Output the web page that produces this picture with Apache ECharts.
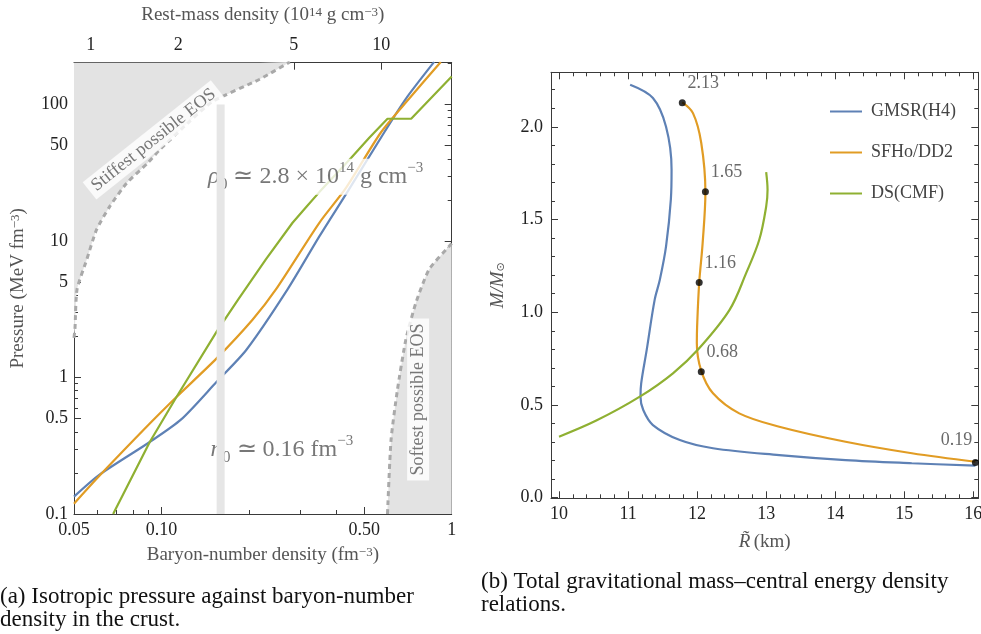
<!DOCTYPE html>
<html>
<head>
<meta charset="utf-8">
<script src="https://cdn.jsdelivr.net/npm/echarts@6/dist/echarts.min.js"></script>
<style>
html, body { margin: 0; padding: 0; background: #fff; }
#chart { width: 981px; height: 634px; }
</style>
</head>
<body>
<div id="chart"></div>
<script>
// (a) crust: baryon-number density n (fm^-3) against pressure P (MeV fm^-3)
var gmsrN = [0.05, 0.0614, 0.0912, 0.117, 0.155, 0.196, 0.272, 0.35, 0.439, 0.586, 0.695, 0.87];
var gmsrP = [0.134, 0.195, 0.337, 0.493, 0.93, 1.59, 4.42, 10.8, 23.2, 62.6, 110, 205];
var sfhoN = [0.05, 0.0614, 0.0912, 0.1127, 0.155, 0.206, 0.248, 0.35, 0.433, 0.571, 0.713, 0.917];
var sfhoP = [0.119, 0.192, 0.46, 0.72, 1.38, 2.65, 4.42, 13.6, 24.6, 62.6, 110, 205];
var dsN = [0.0682, 0.0912, 0.1127, 0.155, 0.1835, 0.229, 0.283, 0.316, 0.35, 0.45, 0.52, 0.601, 0.725, 1.0];
var dsP = [0.1, 0.337, 0.72, 2.17, 3.7, 7.33, 13.6, 17.8, 22.8, 40.5, 57, 78.6, 78.6, 160];

// causal / softest bounds
var stiffN = [0.05, 0.0504, 0.0512, 0.0553, 0.0598, 0.0665, 0.0759, 0.09, 0.0988, 0.125, 0.15, 0.218, 0.277];
var stiffP = [1.95, 2.3, 4.4, 7.29, 12.1, 18.0, 26.5, 37.5, 46.7, 75, 105, 153, 205];
var softN = [0.601, 0.618, 0.65, 0.695, 0.753, 0.836, 0.98, 1.0];
var softP = [0.1, 0.347, 0.808, 1.89, 3.53, 6.19, 9.16, 9.6];

// saturation density band
var n0 = 0.16;
var n0P = [0.1, 100];
var rhoPerN = 17.5; // 10^14 g cm^-3 per fm^-3

var nTicks = [0.05, 0.1, 0.5, 1];
var nTickLabels = ['0.05', '0.10', '0.50', '1'];
var nMinor = [0.06, 0.07, 0.08, 0.09, 0.2, 0.3, 0.4, 0.6, 0.7, 0.8, 0.9];
var rhoTicks = [1, 2, 5, 10];
var pTicks = [0.1, 0.5, 1, 5, 10, 50, 100];
var pTickLabels = ['0.1', '0.5', '1', '5', '10', '50', '100'];
var pMinor = [0.2, 0.3, 0.4, 0.6, 0.7, 0.8, 0.9, 2, 3, 4, 6, 7, 8, 9, 20, 30, 40, 60, 70, 80, 90, 200];

// (b) mass-radius
var gmsrR = [11.03, 11.36, 11.55, 11.63, 11.62, 11.55, 11.46, 11.385, 11.27, 11.19, 11.18, 11.22, 11.36, 11.75, 12.23, 13.19, 14.15, 15.11, 16.03];
var gmsrM = [2.227, 2.155, 2.0, 1.77, 1.61, 1.355, 1.175, 1.067, 0.797, 0.617, 0.545, 0.473, 0.392, 0.311, 0.267, 0.230, 0.203, 0.186, 0.173];
var sfhoR = [11.785, 11.94, 12.06, 12.12, 12.08, 12.03, 12.0, 11.996, 12.06, 12.23, 12.61, 13.19, 14.15, 15.11, 16.03];
var sfhoM = [2.132, 2.074, 1.913, 1.648, 1.373, 1.159, 0.923, 0.833, 0.684, 0.563, 0.455, 0.383, 0.302, 0.240, 0.194];
var dsR = [10.0, 10.54, 11.17, 11.65, 12.03, 12.47, 12.71, 12.90, 13.0, 13.02, 13.0];
var dsM = [0.329, 0.416, 0.545, 0.671, 0.806, 1.013, 1.211, 1.391, 1.570, 1.661, 1.756];
var markR = [11.785, 12.12, 12.03, 12.06, 16.03];
var markM = [2.13, 1.65, 1.16, 0.68, 0.19];

var rTicks = [10, 11, 12, 13, 14, 15, 16];
var mTicks = [0, 0.5, 1.0, 1.5, 2.0];
var rMinor = [];
for (var r = 10; r < 16; r++) for (var k = 1; k < 5; k++) rMinor.push(+(r + k * 0.2).toFixed(1));
var mMinor = [];
for (var m = 1; m <= 22; m++) if (m % 5) mMinor.push(m / 10);

var blue = '#5e81b5', orange = '#e19c24', green = '#8fb032';
var font = 'Liberation Serif';
var frame = '#3a3a3a';
var lg = Math.log10;

function logPairs(xs, ys) {
    return xs.map(function (x, i) { return [lg(x), lg(ys[i])]; });
}
function pairs(xs, ys) {
    return xs.map(function (x, i) { return [x, ys[i]]; });
}
function pick(ticks, labels) {
    return function (v) {
        for (var i = 0; i < ticks.length; i++) if (Math.abs(lg(ticks[i]) - v) < 1e-6) return labels[i];
        return '';
    };
}

function axis(grid, pos, min, max, ticks, len, line, label) {
    return {
        type: 'value', gridIndex: grid, position: pos, min: min, max: max,
        axisLine: { show: line, onZero: false, lineStyle: { color: frame, width: 1 } },
        axisTick: { show: true, inside: true, length: len, customValues: ticks, lineStyle: { color: frame, width: 1 } },
        axisLabel: label ? Object.assign({ show: true, customValues: ticks, fontFamily: font, fontSize: 18, color: '#222' }, label) : { show: false },
        splitLine: { show: false }
    };
}

var nameRich = {
    t: { fontFamily: font, fontSize: 19, color: '#555' },
    i: { fontFamily: font, fontSize: 19, fontStyle: 'italic', color: '#555' },
    sp: { fontFamily: font, fontSize: 13, color: '#555', verticalAlign: 'top' },
    s: { fontFamily: 'DejaVu Sans', fontSize: 11, color: '#555', verticalAlign: 'bottom' }
};

var xMin = lg(nTicks[0]), xMax = 0, yMin = -1, yMax = 2.306;

var xAxes = [
    Object.assign(axis(0, 'bottom', xMin, xMax, nTicks.map(lg), 7, true,
        { formatter: pick(nTicks, nTickLabels), margin: 7 }), {
        name: '{t|Baryon-number density (fm}{sp|−3}{t|)}', nameLocation: 'middle', nameGap: 32,
        nameTextStyle: { rich: nameRich }
    }),
    axis(0, 'bottom', xMin, xMax, nMinor.map(lg), 4, false),
    Object.assign(axis(0, 'top', lg(nTicks[0] * rhoPerN), lg(rhoPerN), rhoTicks.map(lg), 7, true,
        { formatter: function (v) { return String(Math.round(Math.pow(10, v))); }, margin: 8 }), {
        name: '{t|Rest-mass density (10}{sp|14}{t| g cm}{sp|−3}{t|)}', nameLocation: 'middle', nameGap: 38,
        nameTextStyle: { rich: nameRich }
    }),
    Object.assign(axis(1, 'bottom', 9.884, 16.072, rTicks, 7, true, { margin: 7 }), {
        name: '{i|R̃} {t|(km)}', nameLocation: 'middle', nameGap: 34,
        nameTextStyle: { rich: nameRich }
    }),
    axis(1, 'bottom', 9.884, 16.072, rMinor, 4, false),
    axis(1, 'top', 9.884, 16.072, rTicks, 7, true),
    axis(1, 'top', 9.884, 16.072, rMinor, 4, false)
];

var yAxes = [
    Object.assign(axis(0, 'left', yMin, yMax, pTicks.map(lg), 7, true,
        { formatter: pick(pTicks, pTickLabels), margin: 6 }), {
        name: '{t|Pressure (MeV fm}{sp|−3}{t|)}', nameLocation: 'middle', nameGap: 46, nameRotate: 90,
        nameTextStyle: { rich: nameRich }
    }),
    axis(0, 'left', yMin, yMax, pMinor.map(lg), 4, false),
    axis(0, 'right', yMin, yMax, pTicks.map(lg), 7, true),
    axis(0, 'right', yMin, yMax, pMinor.map(lg), 4, false),
    Object.assign(axis(1, 'left', -0.003, 2.294, mTicks, 7, true,
        { formatter: function (v) { return v.toFixed(1); }, margin: 8 }), {
        name: '{i|M/M}{s|⊙}', nameLocation: 'middle', nameGap: 44, nameRotate: 90,
        nameTextStyle: { rich: nameRich }
    }),
    axis(1, 'left', -0.003, 2.294, mMinor, 4, false),
    axis(1, 'right', -0.003, 2.294, mTicks, 7, true),
    axis(1, 'right', -0.003, 2.294, mMinor, 4, false)
];

function curve(name, color, data, xi, yi, smooth) {
    return {
        name: name, type: 'line', xAxisIndex: xi, yAxisIndex: yi, data: data, color: color,
        showSymbol: false, smooth: smooth, z: 2,
        lineStyle: { color: color, width: 2.2 }, emphasis: { disabled: true }
    };
}

function note(at, rich, text, rotate, position) {
    return {
        type: 'scatter', xAxisIndex: 0, yAxisIndex: 0, symbolSize: 0, z: 3, silent: true,
        data: [[lg(at[0]), lg(at[1])]],
        label: {
            show: true, position: position || 'inside', distance: 0, rotate: rotate || 0,
            formatter: text, rich: rich, backgroundColor: '#fff', padding: [2, 5]
        }
    };
}

var bigRich = {
    it: { fontFamily: font, fontSize: 24, fontStyle: 'italic', color: '#555', lineHeight: 32 },
    t: { fontFamily: font, fontSize: 24, color: '#555', lineHeight: 32 },
    sp: { fontFamily: font, fontSize: 15, color: '#555', verticalAlign: 'top', lineHeight: 17 },
    sb: { fontFamily: font, fontSize: 16, color: '#555', verticalAlign: 'bottom', lineHeight: 17 }
};
var eosRich = { t: { fontFamily: font, fontSize: 18, color: '#555' } };

var marks = markR.map(function (r, i) {
    var last = i === markR.length - 1;
    return {
        value: [r, markM[i]],
        label: { offset: last ? [-19, -5] : [21, -2] }
    };
});

var series = [
    {
        type: 'line', xAxisIndex: 0, yAxisIndex: 0, data: logPairs(stiffN, stiffP), showSymbol: false,
        smooth: 0.2, z: 1, silent: true,
        lineStyle: { color: '#a9a9a9', width: 3, type: [5, 4] },
        areaStyle: { origin: 'end', color: '#e3e3e3', opacity: 1 }
    },
    {
        type: 'line', xAxisIndex: 0, yAxisIndex: 0, data: logPairs(softN, softP), showSymbol: false,
        smooth: 0.2, z: 1, silent: true,
        lineStyle: { color: '#a9a9a9', width: 3, type: [5, 4] },
        areaStyle: { origin: 'start', color: '#e3e3e3', opacity: 1 }
    },
    curve('GMSR(H4)', blue, logPairs(gmsrN, gmsrP), 0, 0, 0.25),
    curve('SFHo/DD2', orange, logPairs(sfhoN, sfhoP), 0, 0, 0.25),
    curve('DS(CMF)', green, logPairs(dsN, dsP), 0, 0, false),
    note([0.094, 55], eosRich, '{t|Stiffest possible EOS}', 38.5),
    note([0.766, 0.69], eosRich, '{t|Softest possible EOS}', 90),
    note([0.139, 29.6], bigRich, '{it|ρ}{sb|0}{t| ≃ 2.8 × 10}{sp|14}{t| g cm}{sp|−3}', 0, 'right'),
    note([0.142, 0.297], bigRich, '{it|n}{sb|0}{t| ≃ 0.16 fm}{sp|−3}', 0, 'right'),
    {
        type: 'line', xAxisIndex: 0, yAxisIndex: 0, showSymbol: false, z: 4, silent: true,
        data: n0P.map(function (p) { return [lg(n0), lg(p)]; }),
        lineStyle: { color: '#e6e6e6', width: 8, cap: 'butt' }
    },
    curve('GMSR(H4)', blue, pairs(gmsrR, gmsrM), 3, 4, 0.35),
    curve('SFHo/DD2', orange, pairs(sfhoR, sfhoM), 3, 4, 0.35),
    curve('DS(CMF)', green, pairs(dsR, dsM), 3, 4, 0.35),
    {
        type: 'scatter', xAxisIndex: 3, yAxisIndex: 4, data: marks, symbolSize: 7, clip: false, z: 5,
        itemStyle: { color: '#000' }, silent: true,
        label: {
            show: true, position: 'top', distance: 5, fontFamily: font, fontSize: 18, color: '#444',
            formatter: function (p) { return p.value[1].toFixed(2); }
        }
    }
];

var chart = echarts.init(document.getElementById('chart'), null, { renderer: 'canvas' });
chart.setOption({
    animation: false,
    backgroundColor: '#fff',
    title: [
        {
            text: '(a) Isotropic pressure against baryon-number\ndensity in the crust.',
            left: 0, top: 585, padding: 0,
            textStyle: { fontFamily: font, fontSize: 23, fontWeight: 'normal', color: '#111', lineHeight: 23 }
        },
        {
            text: '(b) Total gravitational mass–central energy density\nrelations.',
            left: 481, top: 570, padding: 0,
            textStyle: { fontFamily: font, fontSize: 23, fontWeight: 'normal', color: '#111', lineHeight: 23 }
        }
    ],
    legend: {
        data: ['GMSR(H4)', 'SFHo/DD2', 'DS(CMF)'],
        orient: 'vertical', left: 825, top: 97, itemWidth: 32, itemHeight: 2, itemGap: 22,
        icon: 'rect', selectedMode: false,
        textStyle: { fontFamily: font, fontSize: 18, color: '#444', lineHeight: 19, padding: [0, 0, 0, 4] }
    },
    grid: [
        { left: 74, top: 62.7, width: 377.7, height: 451.3, outerBoundsMode: 'none' },
        { left: 551, top: 72.3, width: 427.3, height: 426, outerBoundsMode: 'none' }
    ],
    xAxis: xAxes,
    yAxis: yAxes,
    series: series
});
</script>
</body>
</html>
